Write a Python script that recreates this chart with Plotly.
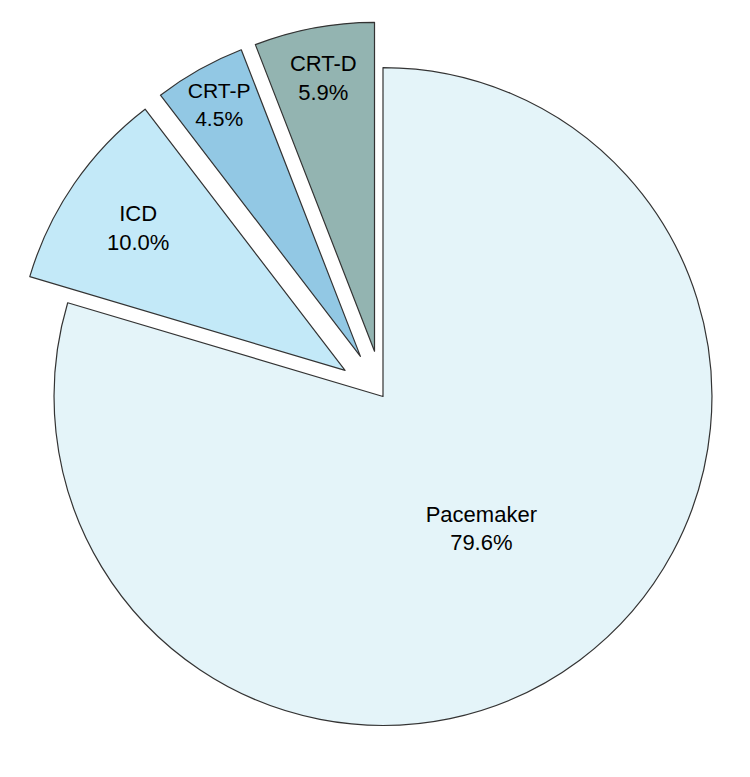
import plotly.graph_objects as go

labels = ["Pacemaker", "ICD", "CRT-P", "CRT-D"]
values = [79.6, 10.0, 4.5, 5.9]
colors = ["#E4F4F9", "#C3E9F8", "#92C8E4", "#93B4B1"]
pulls = [0, 0.14, 0.14, 0.14]

fig = go.Figure(go.Pie(
    labels=labels, values=values, sort=False, direction="clockwise", rotation=0,
    pull=pulls, marker=dict(colors=colors, line=dict(color="#333333", width=1.2)),
    texttemplate="%{label}<br>%{value:.1f}%", textinfo="text", textposition="inside",
    insidetextorientation="horizontal",
    textfont=dict(family="Arial, Liberation Sans", size=22, color="black"),
    showlegend=False, domain=dict(x=[0, 1], y=[0, 1]),
))
fig.update_layout(width=750, height=777, margin=dict(l=0, r=0, t=0, b=0),
                  paper_bgcolor="white", plot_bgcolor="white")
fig.write_html("out.html")
